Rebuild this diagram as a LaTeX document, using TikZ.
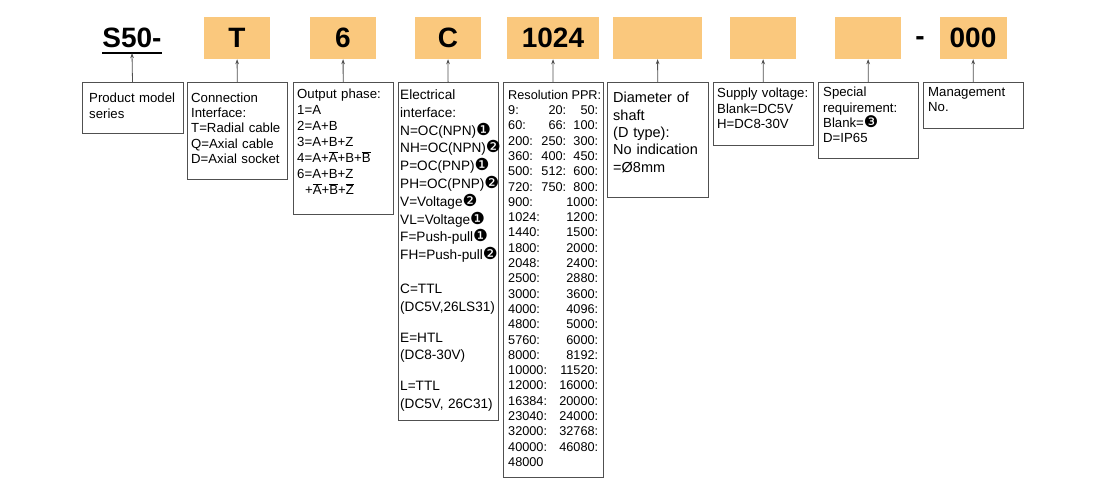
\documentclass[tikz,border=0pt]{standalone}
\usepackage{fontspec}
\setmainfont{Liberation Sans}
\newfontfamily\dingfont{DejaVu Sans}[Scale=1.22]
\usetikzlibrary{arrows.meta,positioning}
\definecolor{codeorange}{RGB}{250,200,125}
\definecolor{framegray}{RGB}{80,80,80}
\newcommand{\ovl}[1]{$\overline{\mbox{#1}}$}
\newcommand{\dn}[1]{{\dingfont #1}}
\newcommand{\resrow}[3]{\leavevmode\rlap{#1}\makebox[58pt][r]{#2}\makebox[32pt][r]{#3}}

\begin{document}
\begin{tikzpicture}[x=1pt,y=-1pt,
  >={Stealth[length=5pt,width=3.6pt]},
  title/.style={inner sep=0pt, font=\bfseries\fontsize{28}{32}\selectfont},
  codebox/.style={title, fill=codeorange, minimum height=42pt},
  infobox/.style={draw=framegray, line width=0.9pt, anchor=north west, inner sep=0pt, minimum width=100pt},
  infotext/.style={anchor=base west, align=left, inner sep=0pt, text width=110pt, font=\fontsize{13.2}{15.5}\selectfont},
  pointer/.style={->, draw=framegray, line width=0.8pt}]
  \useasboundingbox (0,0) rectangle (1095,500);

  % code line
  \node[title] (series) at (132,38) {S50-};
  \draw[line width=1.3pt] ([yshift=-5.5pt]series.base west) -- ([yshift=-5.5pt]series.base east);
  \coordinate (seriesline) at ([yshift=-5.5pt]series.base);
  \node[codebox, minimum width=66pt] (cT) at (237,38) {T};
  \node[codebox, minimum width=66pt] (c6) at (343,38) {6};
  \node[codebox, minimum width=66pt] (cC) at (448,38) {C};
  \node[codebox, minimum width=92pt] (c1024) at (553,38) {1024};
  \node[codebox, minimum width=89pt] (cshaft) at (657.5,38) {};
  \node[codebox, minimum width=66pt] (csupply) at (763,38) {};
  \node[codebox, minimum width=66pt] (cspecial) at (868,38) {};
  \node[title] (dash) at (920,41) {-};
  \node[codebox, minimum width=67pt] (c000) at (973,38) {000};

  % explanation boxes
  \node[infobox, minimum width=101pt, minimum height=51pt] (bseries) at (82,82) {};
  \node[infobox, minimum height=97pt] (biface) at (187,82) {};
  \node[infobox, minimum height=132pt] (bphase) at (293,82) {};
  \node[infobox, minimum height=338pt] (belec) at (398,82) {};
  \node[infobox, minimum height=395pt] (bres) at (503,82) {};
  \node[infobox, minimum width=101pt, minimum height=115pt] (bshaft) at (607,82) {};
  \node[infobox, minimum height=63pt] (bsupply) at (713,82) {};
  \node[infobox, minimum height=76pt] (bspecial) at (818,82) {};
  \node[infobox, minimum height=46pt] (bmgmt) at (923,82) {};

  \node[infotext] (tseries) at ([shift={(7,21)}]bseries.north west)
    {Product model\\series};
  \node[infotext, font=\fontsize{13.2}{15.2}\selectfont] (tiface) at ([shift={(4,20.5)}]biface.north west)
    {Connection\\Interface:\\T=Radial cable\\Q=Axial cable\\D=Axial socket};
  \node[infotext, font=\fontsize{13.2}{16}\selectfont] (tphase) at ([shift={(4,16.5)}]bphase.north west)
    {Output phase:\\1=A\\2=A+B\\3=A+B+Z\\4=A+\ovl{A}+B+\ovl{B}\\6=A+B+Z\\\hspace*{8pt}+\ovl{A}+\ovl{B}+\ovl{Z}};
  \node[infotext, font=\fontsize{13.6}{17.8}\selectfont] (telec) at ([shift={(2,17.5)}]belec.north west)
    {Electrical\\interface:\\N=OC(NPN)\dn{❶}\\NH=OC(NPN)\dn{❷}\\P=OC(PNP)\dn{❶}\\PH=OC(PNP)\dn{❷}\\
     V=Voltage\dn{❷}\\VL=Voltage\dn{❶}\\F=Push-pull\dn{❶}\\FH=Push-pull\dn{❷}\\[16pt]
     C=TTL\\(DC5V,26LS31)\\[13pt]E=HTL\\(DC8-30V)\\[13pt]L=TTL\\(DC5V, 26C31)};
  \node[infotext, font=\fontsize{12.7}{15.3}\selectfont] (tres) at ([shift={(5,17.3)}]bres.north west)
    {\leavevmode\rlap{Resolution}\makebox[93pt][r]{PPR:}\\
     \resrow{9:}{20:}{50:}\\\resrow{60:}{66:}{100:}\\\resrow{200:}{250:}{300:}\\
     \resrow{360:}{400:}{450:}\\\resrow{500:}{512:}{600:}\\\resrow{720:}{750:}{800:}\\
     \resrow{900:}{}{1000:}\\\resrow{1024:}{}{1200:}\\\resrow{1440:}{}{1500:}\\
     \resrow{1800:}{}{2000:}\\\resrow{2048:}{}{2400:}\\\resrow{2500:}{}{2880:}\\
     \resrow{3000:}{}{3600:}\\\resrow{4000:}{}{4096:}\\\resrow{4800:}{}{5000:}\\
     \resrow{5760:}{}{6000:}\\\resrow{8000:}{}{8192:}\\\resrow{10000:}{}{11520:}\\
     \resrow{12000:}{}{16000:}\\\resrow{16384:}{}{20000:}\\\resrow{23040:}{}{24000:}\\
     \resrow{32000:}{}{32768:}\\\resrow{40000:}{}{46080:}\\48000};
  \node[infotext, font=\fontsize{14.5}{17.3}\selectfont] (tshaft) at ([shift={(6,21)}]bshaft.north west)
    {Diameter of\\shaft\\(D type):\\No indication\\=Ø8mm};
  \node[infotext] (tsupply) at ([shift={(4,16)}]bsupply.north west)
    {Supply voltage:\\Blank=DC5V\\H=DC8-30V};
  \node[infotext, font=\fontsize{13.2}{15.3}\selectfont] (tspecial) at ([shift={(5,15)}]bspecial.north west)
    {Special\\requirement:\\Blank=\dn{❸}\\D=IP65};
  \node[infotext, font=\fontsize{13.2}{15}\selectfont] (tmgmt) at ([shift={(5,15)}]bmgmt.north west)
    {Management\\No.};

  \path[pointer]
  (bseries) edge (seriesline)
  (biface) edge (cT)
  (bphase) edge (c6)
  (belec) edge (cC)
  (bres) edge (c1024)
  (bshaft) edge (cshaft)
  (bsupply) edge (csupply)
  (bspecial) edge (cspecial)
  (bmgmt) edge (c000);
\end{tikzpicture}
\end{document}
